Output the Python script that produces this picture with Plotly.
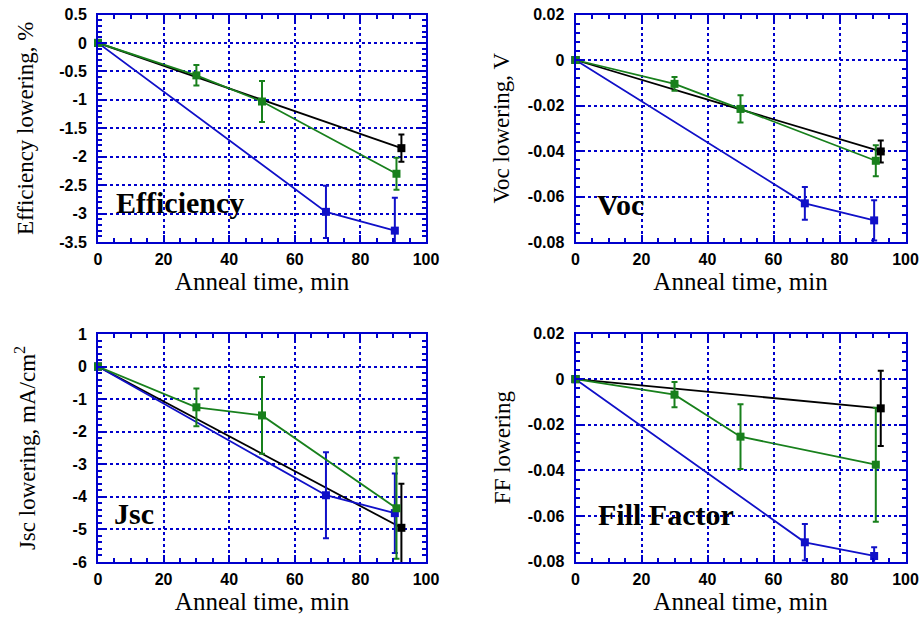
import plotly.graph_objects as go

# ---------------- data ----------------
times_black = [0, 92.5]
times_green = [0, 30, 50, 91]
times_blue = [0, 69.5, 90.5]

eff_black = [0, -1.85]
eff_black_err = [0, 0.24]
eff_green = [0, -0.57, -1.03, -2.30]
eff_green_err = [0, 0.18, 0.36, 0.28]
eff_blue = [0, -2.97, -3.30]
eff_blue_err = [0, 0.46, 0.58]

voc_black = [0, -0.0402]
voc_black_err = [0, 0.0048]
voc_green = [0, -0.0105, -0.0215, -0.0443]
voc_green_err = [0, 0.003, 0.006, 0.0068]
voc_blue = [0, -0.063, -0.0705]
voc_blue_err = [0, 0.0072, 0.0088]

jsc_black = [0, -4.95]
jsc_black_err = [0, 1.35]
jsc_green = [0, -1.25, -1.5, -4.35]
jsc_green_err = [0, 0.58, 1.18, 1.55]
jsc_blue = [0, -3.95, -4.5]
jsc_blue_err = [0, 1.32, 1.22]

ff_black = [0, -0.0128]
ff_black_err = [0, 0.0165]
ff_green = [0, -0.0068, -0.0252, -0.0375]
ff_green_err = [0, 0.0055, 0.0142, 0.025]
ff_blue = [0, -0.0715, -0.0775]
ff_blue_err = [0, 0.008, 0.0038]

x_ticks = [0, 20, 40, 60, 80, 100]
x_ticklabels = ["0", "20", "40", "60", "80", "100"]

eff_ticks = [0.5, 0, -0.5, -1, -1.5, -2, -2.5, -3, -3.5]
eff_ticklabels = ["0.5", "0", "-0.5", "-1", "-1.5", "-2", "-2.5", "-3", "-3.5"]
voc_ticks = [0.02, 0, -0.02, -0.04, -0.06, -0.08]
voc_ticklabels = ["0.02", "0", "-0.02", "-0.04", "-0.06", "-0.08"]
jsc_ticks = [1, 0, -1, -2, -3, -4, -5, -6]
jsc_ticklabels = ["1", "0", "-1", "-2", "-3", "-4", "-5", "-6"]
ff_ticks = [0.02, 0, -0.02, -0.04, -0.06, -0.08]
ff_ticklabels = ["0.02", "0", "-0.02", "-0.04", "-0.06", "-0.08"]

y_titles = ["Efficiency lowering, %", "Voc lowering, V",
            "Jsc lowering, mA/cm<sup>2</sup>", "FF lowering"]
panel_labels = ["Efficiency", "Voc", "Jsc", "Fill Factor"]
x_title = "Anneal time, min"

# ---------------- style ----------------
BLACK = "#000000"
GREEN = "#18801c"
BLUE = "#1010c8"
AXIS = "#0000cc"
SERIF = "Liberation Serif, Times New Roman, serif"
SANS = "Liberation Sans, Arial, sans-serif"

fig = go.Figure()

panels = [
    dict(black=(eff_black, eff_black_err), green=(eff_green, eff_green_err),
         blue=(eff_blue, eff_blue_err), yr=[-3.5, 0.5], ticks=eff_ticks,
         labels=eff_ticklabels, minor=0.1, ann=(25, -2.8), standoff=19),
    dict(black=(voc_black, voc_black_err), green=(voc_green, voc_green_err),
         blue=(voc_blue, voc_blue_err), yr=[-0.08, 0.02], ticks=voc_ticks,
         labels=voc_ticklabels, minor=0.004, ann=(13.5, -0.0633), standoff=12),
    dict(black=(jsc_black, jsc_black_err), green=(jsc_green, jsc_green_err),
         blue=(jsc_blue, jsc_blue_err), yr=[-6, 1], ticks=jsc_ticks,
         labels=jsc_ticklabels, minor=0.2, ann=(11, -4.52), standoff=31),
    dict(black=(ff_black, ff_black_err), green=(ff_green, ff_green_err),
         blue=(ff_blue, ff_blue_err), yr=[-0.08, 0.02], ticks=ff_ticks,
         labels=ff_ticklabels, minor=0.004, ann=(27.5, -0.0591), standoff=11),
]

W, H = 924, 620
# plot-area pixel boxes (left, right, top, bottom)
boxes = [(98, 426, 14.5, 242), (575.5, 905.5, 14.5, 242),
         (98, 426, 334, 562), (575.5, 905.5, 333.5, 561.7)]

layout = {}
for i, p in enumerate(panels):
    n = i + 1
    xa = "x" if n == 1 else f"x{n}"
    ya = "y" if n == 1 else f"y{n}"
    series = [("black", times_black, BLACK), ("blue", times_blue, BLUE),
              ("green", times_green, GREEN)]
    for key, xs, col in series:
        ys, err = p[key]
        fig.add_trace(go.Scatter(
            x=xs, y=ys, mode="lines", xaxis=xa, yaxis=ya,
            line=dict(color=col, width=1.8), showlegend=False,
            error_y=dict(type="data", array=err, visible=True, color=col,
                         thickness=2, width=3),
            cliponaxis=True, hoverinfo="skip"))
    for key, xs, col in series:
        ys, err = p[key]
        fig.add_trace(go.Scatter(
            x=xs, y=ys, mode="markers", xaxis=xa, yaxis=ya,
            marker=dict(symbol="square", size=8, color=col),
            showlegend=False, cliponaxis=False))

    l, r, t, b = boxes[i]
    common = dict(showline=True, linecolor=AXIS, linewidth=2, mirror="allticks",
                  ticks="inside", ticklen=7, tickcolor=AXIS, tickwidth=1.5,
                  showgrid=True, gridcolor=AXIS, griddash="dot", gridwidth=1.5,
                  zeroline=False, automargin=False,
                  tickfont=dict(family=SANS, size=16, color="black", weight="bold"))
    xkey = "xaxis" if n == 1 else f"xaxis{n}"
    ykey = "yaxis" if n == 1 else f"yaxis{n}"
    layout[xkey] = dict(common, domain=[l / W, r / W], range=[0, 100],
                        anchor=ya, tickvals=x_ticks, ticktext=x_ticklabels,
                        ticklabelstandoff=2,
                        minor=dict(dtick=5, ticklen=4, tickcolor=AXIS,
                                   ticks="inside", showgrid=False),
                        title=dict(text=x_title, standoff=5,
                                   font=dict(family=SERIF, size=25, color="black")))
    layout[ykey] = dict(common, domain=[1 - b / H, 1 - t / H], range=p["yr"],
                        anchor=xa, tickvals=p["ticks"], ticktext=p["labels"],
                        ticklabelstandoff=6,
                        minor=dict(dtick=p["minor"], tick0=0, ticklen=4,
                                   tickcolor=AXIS, ticks="inside", showgrid=False),
                        title=dict(text=y_titles[i], standoff=p["standoff"],
                                   font=dict(family=SERIF, size=23, color="black")))
    fig.add_annotation(x=p["ann"][0], y=p["ann"][1], xref=xa, yref=ya,
                       text=f"<b>{panel_labels[i]}</b>", showarrow=False,
                       font=dict(family=SERIF, size=30, color="black"))

fig.update_layout(width=W, height=H, margin=dict(l=0, r=0, t=0, b=0),
                  paper_bgcolor="white", plot_bgcolor="white", **layout)

fig.write_html("out.html")
